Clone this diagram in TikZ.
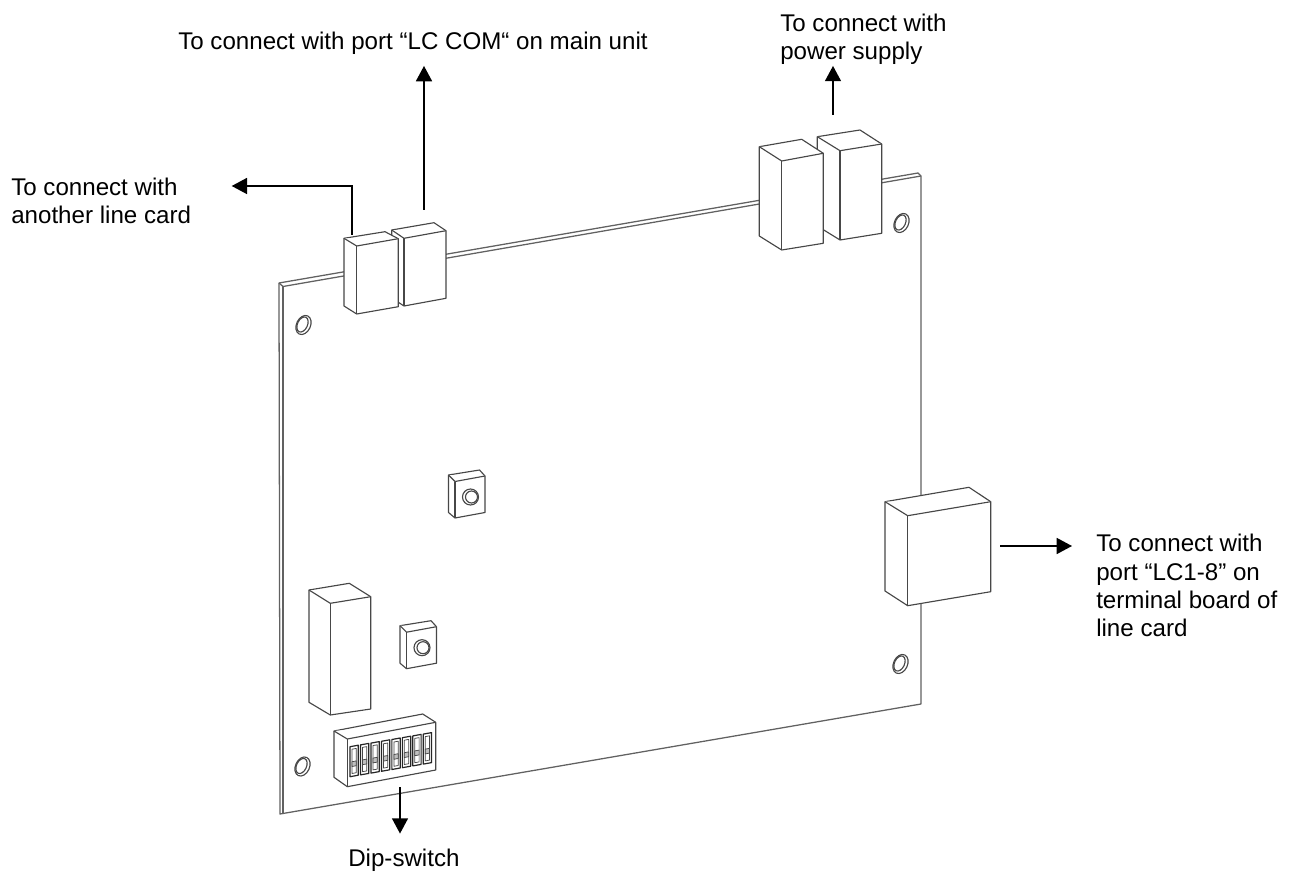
\documentclass[tikz,border=0pt]{standalone}
\usepackage{fontspec}
\setmainfont{Liberation Sans}
\usetikzlibrary{arrows.meta}
\tikzset{
	label text/.style={inner sep=0pt,align=left,font=\fontsize{18.1}{21.2}\selectfont},
	pointer/.style={black,line width=1.2pt,-{Triangle[length=11.5pt,width=12pt]}},
	part/.style={draw=black!72,fill=white,line width=0.85pt,line join=round},
	edge/.style={draw=black!62,line width=0.95pt,line join=round},
}
\begin{document}
\begin{tikzpicture}[x=0.75pt,y=-0.75pt]
	\useasboundingbox (0,0) rectangle (1295,873);
	% board
	\draw[edge] (279,283) -- (918,173) -- (921,176) -- (921,704) -- (280,814) -- cycle;
	\draw[edge] (279,283) -- (283,286.5) -- (921,176);
	\draw[edge] (283,286.5) -- (283,813);
	% mounting holes
	\foreach \x/\y in {303.5/325,901.5/223,302.5/766.5,900.5/664}{
		\draw[part,shift={(\x,\y)},rotate=-25] (0,0) ellipse [x radius=7,y radius=10];
		\draw[part,fill=none,shift={(\x-1,\y-0.5)},rotate=-25] (0,0) ellipse [x radius=5,y radius=8];
	}
	% connectors on the top edge
	\draw[part] (391.7,230) -- (434,222.7) -- (446,230.7) -- (446,298.3) -- (404,306) -- (391.7,298) -- cycle;
	\draw[part] (391.7,230) -- (404,238.3) -- (446,230.7);
	\draw[part] (404,238.3) -- (404,306);
	\draw[part] (344,238.3) -- (385,231.7) -- (398.3,238.7) -- (398.3,306.7) -- (356.7,314) -- (344,306) -- cycle;
	\draw[part] (344,238.3) -- (356.7,246) -- (398.3,238.7);
	\draw[part] (356.7,246) -- (356.7,314);
	\draw[part] (817.3,136.7) -- (860,130) -- (881.7,144) -- (881.7,233.3) -- (840,240) -- (817.3,226) -- cycle;
	\draw[part] (817.3,136.7) -- (840,150.7) -- (881.7,144);
	\draw[part] (840,150.7) -- (840,240);
	\draw[part] (759.3,146.7) -- (801.7,139.3) -- (823.3,153.3) -- (823.3,243.3) -- (781.7,250) -- (759.3,236) -- cycle;
	\draw[part] (759.3,146.7) -- (781.7,161) -- (823.3,153.3);
	\draw[part] (781.7,161) -- (781.7,250);
	% terminal connector
	\draw[part] (885,501.7) -- (969,487.3) -- (990.7,501.7) -- (990.7,591.7) -- (907.7,605.7) -- (885,591) -- cycle;
	\draw[part] (885,501.7) -- (907.7,515.7) -- (990.7,501.7);
	\draw[part] (907.7,515.7) -- (907.7,605.7);
	% tall block
	\draw[part] (309,590) -- (349.3,583.3) -- (370.7,596.7) -- (370.7,709) -- (330.3,715) -- (309,702.3) -- cycle;
	\draw[part] (309,590) -- (330.3,603.3) -- (370.7,596.7);
	\draw[part] (330.3,603.3) -- (330.3,715);
	% small buttons
	\foreach \x/\y in {448.5/475,400/625.7}{
		\begin{scope}[shift={(\x,\y)}]
			\draw[part] (0,0) -- (31,-5) -- (36.5,1) -- (36.5,37.5) -- (6.5,43) -- (0,37.5) -- cycle;
			\draw[part] (0,0) -- (6.5,6.5) -- (36.5,1);
			\draw[part] (6.5,6.5) -- (6.5,43);
			\draw[part] (22,22) circle[radius=8];
			\draw[part] (23,22) circle[radius=6];
		\end{scope}
	}
	% dip switch body
	\draw[part] (334,731) -- (422.7,714) -- (435.7,722.3) -- (435.7,770) -- (347.3,786.7) -- (334,777.3) -- cycle;
	\draw[part] (334,731) -- (347.3,739) -- (435.7,722.3);
	\draw[part] (347.3,739) -- (347.3,786.7);
	\foreach \i in {0,...,7}{
		\begin{scope}[shift={(350+10.47*\i,746.7-1.8*\i)}]
			\draw[part,draw=black!85,line width=0.9pt] (0,0) -- (8.3,-1.5) -- (8.3,28.5) -- (0,30) -- cycle;
			\draw[part,line width=0.55pt] (2,2.5) -- (6.3,1.7) -- (6.3,26) -- (2,26.8) -- cycle;
			\draw[part,fill=black!25,line width=0.55pt] (2,15) -- (6.3,14.2) -- (6.3,19) -- (2,19.8) -- cycle;
		\end{scope}
	}
	% pointers and their texts
	\coordinate (lccomport) at (424,210);
	\coordinate (powerport) at (833,115);
	\coordinate (lineport) at (352,235);
	\coordinate (linetip) at (231.7,186);
	\coordinate (terminalport) at (1000,546);
	\coordinate (dipport) at (400,787);
	\node[label text,anchor=base west] (lccomtext) at (178,50) {To connect with port “LC COM“ on main unit};
	\node[label text,anchor=base west] (powertext) at (780,59.3) {To connect with\\power supply};
	\node[label text,anchor=base west] (linetext) at (11,223.3) {To connect with\\another line card};
	\node[label text,anchor=base west] (terminaltext) at (1096,636.7) {To connect with\\port “LC1-8” on\\terminal board of\\line card};
	\node[label text,anchor=base west] (diptext) at (348,866) {Dip-switch};
	\draw[pointer,shorten >=8pt] (lccomport) -- (lccomport |- lccomtext.south);
	\draw[pointer,shorten >=1pt] (powerport) -- (powerport |- powertext.south);
	\draw[pointer] (lineport) |- (linetip);
	\draw[pointer,shorten >=18pt] (terminalport) -- (terminaltext.west |- terminalport);
	\draw[pointer,shorten >=11pt] (dipport) -- (dipport |- diptext.north);
\end{tikzpicture}
\end{document}
